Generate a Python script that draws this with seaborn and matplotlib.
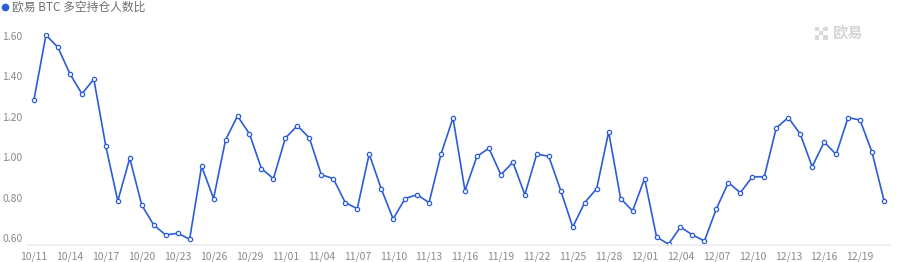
import numpy as np
import pandas as pd
import matplotlib
matplotlib.use("Agg")
import matplotlib.pyplot as plt
from matplotlib.patches import Rectangle
import seaborn as sns

# ---- data ----
dates = ([f"10/{d:02d}" for d in range(11, 32)] +
         [f"11/{d:02d}" for d in range(1, 31)] +
         [f"12/{d:02d}" for d in range(1, 22)])
ratio = [1.285, 1.605, 1.544, 1.413, 1.314, 1.386, 1.054, 0.783, 0.995, 0.763,
         0.664, 0.615, 0.623, 0.594, 0.955, 0.795, 1.085, 1.204, 1.115, 0.943,
         0.894, 1.095, 1.156, 1.095, 0.913, 0.894, 0.775, 0.745, 1.016, 0.844,
         0.694, 0.795, 0.814, 0.775, 1.016, 1.194, 0.834, 1.004, 1.044, 0.913,
         0.975, 0.814, 1.016, 1.004, 0.834, 0.654, 0.775, 0.844, 1.125, 0.795,
         0.734, 0.894, 0.605, 0.569, 0.654, 0.615, 0.585, 0.745, 0.874, 0.824,
         0.903, 0.903, 1.145, 1.196, 1.115, 0.953, 1.075, 1.014, 1.196, 1.184,
         1.024, 0.785]
series_name = "欧易 BTC 多空持仓人数比"
y_ticks = [0.60, 0.80, 1.00, 1.20, 1.40, 1.60]
watermark = "欧易"

df = pd.DataFrame({"pos": np.arange(len(dates)), "date": dates, "ratio": ratio})

sns.set_theme(style="white")
plt.rcParams["font.family"] = ["Noto Sans CJK SC", "DejaVu Sans"]

W, H = 904, 262
fig = plt.figure(figsize=(W / 100, H / 100), dpi=100)
fig.patch.set_facecolor("white")
left, right = 28 / W, 890 / W
bottom, top = 1 - 245 / H, 1 - 33 / H
ax = fig.add_axes([left, bottom, right - left, top - bottom])
ax.set_facecolor("white")

blue = "#2c5dd6"
sns.lineplot(data=df, x="pos", y="ratio", ax=ax, color=blue, linewidth=1.2,
             marker="o", markersize=3.1, markerfacecolor="white",
             markeredgecolor=blue, markeredgewidth=0.9, legend=False)

ax.set_xlim(-0.5, len(dates) - 0.5)
ax.set_ylim(0.565, 1.615)

ax.set_xticks(df["pos"][::3])
ax.set_xticklabels(df["date"][::3])
ax.set_yticks(y_ticks)
ax.set_yticklabels([f"{v:.2f}" for v in y_ticks])
ax.tick_params(axis="both", length=0, labelsize=7.5, colors="#8a8a8a")
ax.tick_params(axis="x", pad=4.5)
ax.tick_params(axis="y", pad=4)
ax.set_xlabel("")
ax.set_ylabel("")
ax.grid(False)
for s in ["top", "right", "left"]:
    ax.spines[s].set_visible(False)
ax.spines["bottom"].set_color("#ececec")
ax.spines["bottom"].set_linewidth(1.2)

# legend
fig.lines.append(plt.Line2D([5 / W], [1 - 7 / H], marker="o", markersize=4.5,
                            color=blue, transform=fig.transFigure))
fig.text(12 / W, 1 - 7 / H, series_name, fontsize=8.5, color="#707070",
         va="center", ha="left")

# watermark
cell = 4.2
x0, y0 = 815, 27
for (i, j) in [(0, 0), (2, 0), (1, 1), (0, 2), (2, 2)]:
    fig.patches.append(Rectangle(((x0 + i * cell) / W, 1 - (y0 + (j + 1) * cell) / H),
                                 cell / W, cell / H, transform=fig.transFigure,
                                 facecolor="#d9d9d9", edgecolor="none"))
fig.text(832 / W, 1 - 32.5 / H, watermark, fontsize=11, color="#d6d6d6",
         va="center", ha="left", fontweight="bold")

fig.savefig("out.png", dpi=100, facecolor="white")
